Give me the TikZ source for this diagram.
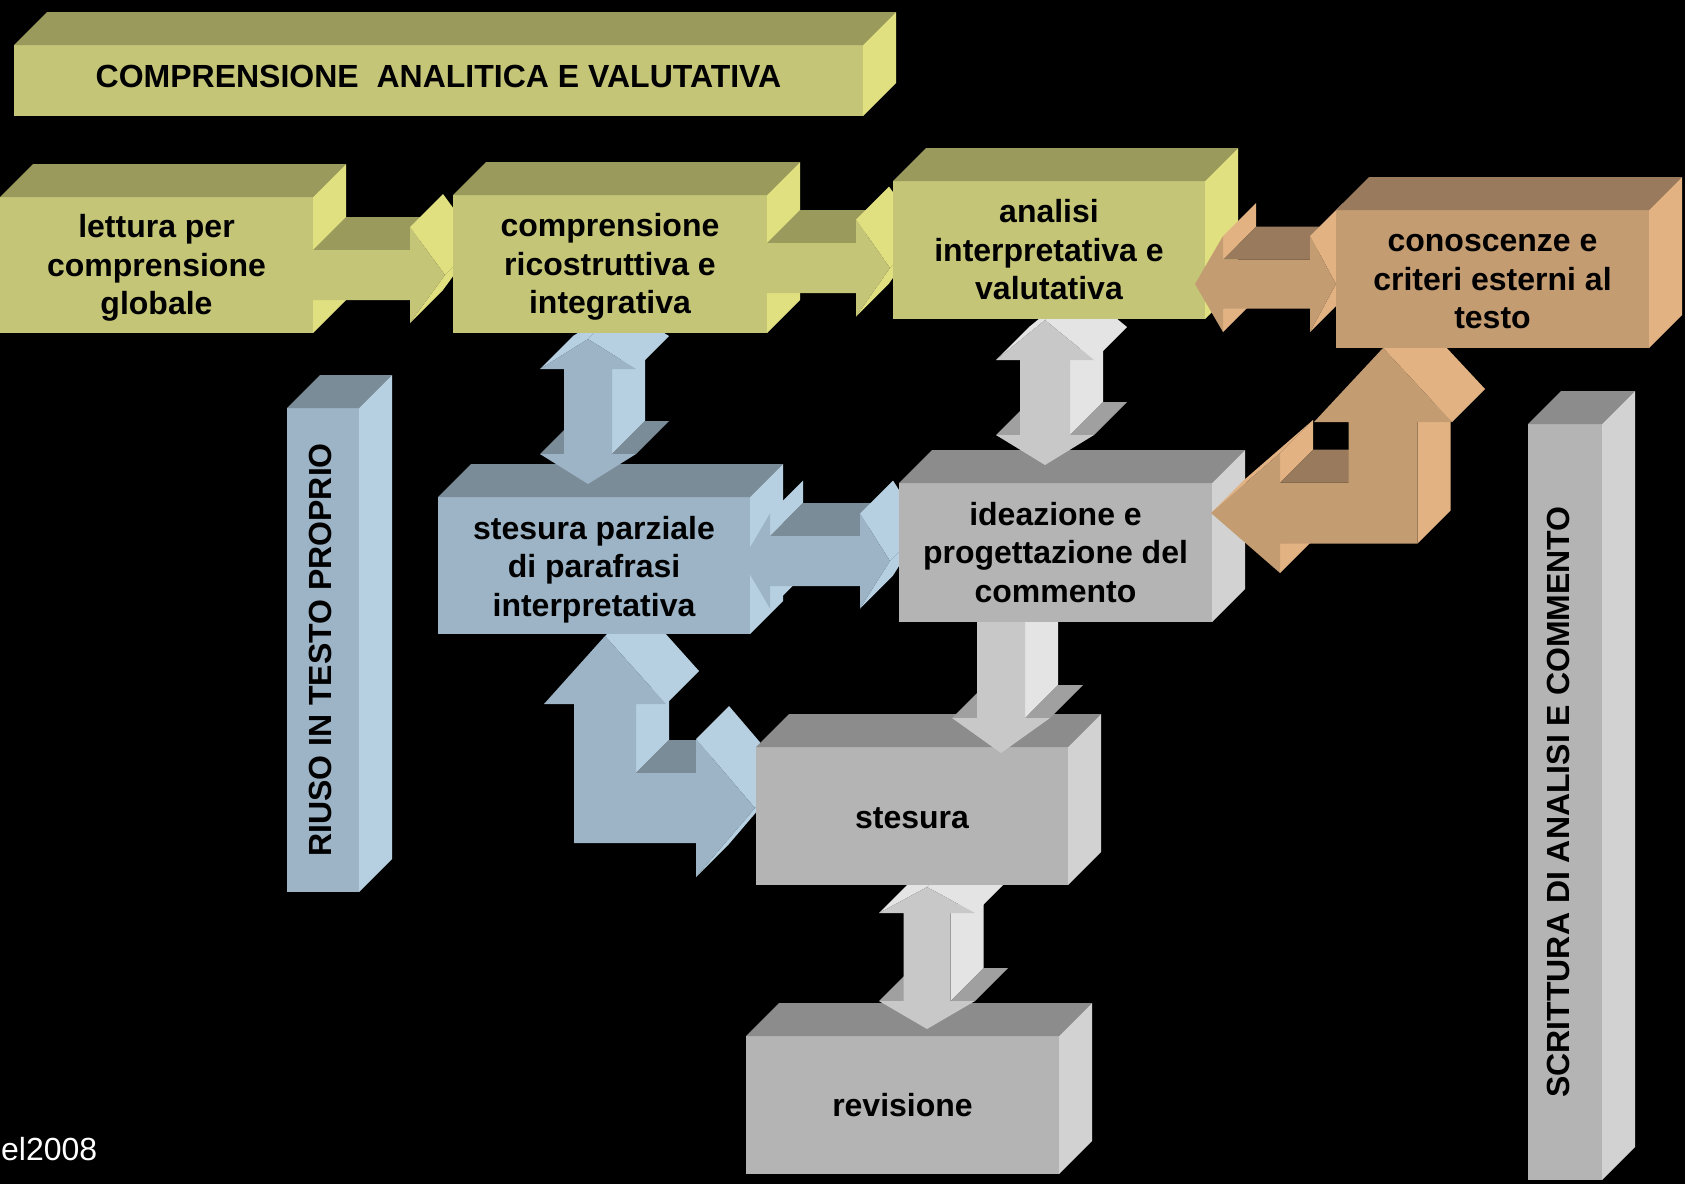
\documentclass[tikz,border=0pt]{standalone}
\usepackage{fontspec}
\setmainfont{Liberation Sans}
\usetikzlibrary{calc}

% --- colour families: F front, T top, S side ---
\definecolor{yelF}{RGB}{197,197,120}\definecolor{yelT}{RGB}{154,154,92}\definecolor{yelS}{RGB}{224,224,128}
\definecolor{brnF}{RGB}{196,156,114}\definecolor{brnT}{RGB}{154,122,92}\definecolor{brnS}{RGB}{226,178,130}
\definecolor{bluF}{RGB}{156,180,198}\definecolor{bluT}{RGB}{122,140,152}\definecolor{bluS}{RGB}{182,208,226}
\definecolor{gryF}{RGB}{180,180,180}\definecolor{gryT}{RGB}{140,140,140}\definecolor{gryS}{RGB}{210,210,210}
\definecolor{lgrF}{RGB}{200,200,200}\definecolor{lgrT}{RGB}{160,160,160}\definecolor{lgrS}{RGB}{228,228,228}

\newdimen\auxx \newdimen\auxy
\def\dep{33}

% pixel position of a named coordinate
\newcommand{\pxof}[3]{%
  \pgfextractx{\auxx}{\pgfpointanchor{#1}{center}}%
  \pgfextracty{\auxy}{\pgfpointanchor{#1}{center}}%
  \pgfmathsetmacro#2{\auxx}%
  \pgfmathsetmacro#3{0-\auxy}%
}

% extruded polygon, points listed clockwise, first point repeated last
\newcommand{\extrude}[2]{%
  \global\let\pathlist\empty
  \foreach \xB/\yB [count=\k, remember=\xB as \xA (initially 0), remember=\yB as \yA (initially 0)] in #2 {%
    \xdef\pathlist{\pathlist(\xB,\yB) -- }%
    \ifnum\k>1
      \pgfmathsetmacro{\edx}{\xB-\xA}%
      \pgfmathsetmacro{\edy}{\yB-\yA}%
      \pgfmathtruncatemacro{\fc}{((\edx)+(\edy)>0.01) ? ((((\edx)>0) && (abs(\edy)<0.3*(\edx))) ? 1 : 2) : 0}%
      \ifcase\fc\relax
      \or \fill[#1T] (\xA,\yA) -- (\xB,\yB) -- ({\xB+\dep},{\yB-\dep}) -- ({\xA+\dep},{\yA-\dep}) -- cycle;
      \or \fill[#1S] (\xA,\yA) -- (\xB,\yB) -- ({\xB+\dep},{\yB-\dep}) -- ({\xA+\dep},{\yA-\dep}) -- cycle;
      \fi
    \fi
  }%
  \edef\frontcmd{\noexpand\fill[#1F] \pathlist cycle;}\frontcmd
}

% box: front, top and side of a frame node
\newcommand{\cube}[2]{%
  \fill[#2F] (#1.south west) rectangle (#1.north east);
  \fill[#2T] (#1.north west) -- ++(\dep,-\dep) -- ($(#1.north east)+(\dep,-\dep)$) -- (#1.north east) -- cycle;
  \fill[#2S] (#1.north east) -- ++(\dep,-\dep) -- ($(#1.south east)+(\dep,-\dep)$) -- (#1.south east) -- cycle;
}

% arrow to the right: start, tip, shaft half, head half, head length, family
\newcommand{\rarrow}[6]{%
  \pxof{#1}{\qsx}{\qsy}\pxof{#2}{\qtx}{\qty}%
  \pgfmathsetmacro\qhb{\qtx-#5}%
  \pgfmathsetmacro\qsu{\qty-#3}\pgfmathsetmacro\qsd{\qty+#3}%
  \pgfmathsetmacro\qhu{\qty-#4}\pgfmathsetmacro\qhd{\qty+#4}%
  \edef\plist{\qsx/\qsu,\qhb/\qsu,\qhb/\qhu,\qtx/\qty,\qhb/\qhd,\qhb/\qsd,\qsx/\qsd,\qsx/\qsu}%
  \extrude{#6}{\plist}%
}

% horizontal double arrow: left tip, right tip, shaft half, head half, left length, right length, family
\newcommand{\hdarrow}[7]{%
  \pxof{#1}{\qlx}{\qy}\pxof{#2}{\qrx}{\qry}%
  \pgfmathsetmacro\qa{\qlx+#5}\pgfmathsetmacro\qb{\qrx-#6}%
  \pgfmathsetmacro\qsu{\qy-#3}\pgfmathsetmacro\qsd{\qy+#3}%
  \pgfmathsetmacro\qhu{\qy-#4}\pgfmathsetmacro\qhd{\qy+#4}%
  \edef\plist{\qlx/\qy,\qa/\qhu,\qa/\qsu,\qb/\qsu,\qb/\qhu,\qrx/\qy,\qb/\qhd,\qb/\qsd,\qa/\qsd,\qa/\qhd,\qlx/\qy}%
  \extrude{#7}{\plist}%
}

% vertical double arrow: top tip, bottom tip, shaft half, head half, top length, bottom length, family
\newcommand{\vdarrow}[7]{%
  \pxof{#1}{\qx}{\qtop}\pxof{#2}{\qbx}{\qbot}%
  \pgfmathsetmacro\qxl{\qx-#3}\pgfmathsetmacro\qxr{\qx+#3}%
  \pgfmathsetmacro\qXl{\qx-#4}\pgfmathsetmacro\qXr{\qx+#4}%
  \pgfmathsetmacro\qa{\qtop+#5}\pgfmathsetmacro\qb{\qbot-#6}%
  \edef\plist{\qx/\qtop,\qXr/\qa,\qxr/\qa,\qxr/\qb,\qXr/\qb,\qx/\qbot,\qXl/\qb,\qxl/\qb,\qxl/\qa,\qXl/\qa,\qx/\qtop}%
  \extrude{#7}{\plist}%
}

% downward arrow: start, tip, shaft half, head half, head length, family
\newcommand{\dnarrow}[6]{%
  \pxof{#1}{\qsx}{\qsy}\pxof{#2}{\qx}{\qty}%
  \pgfmathsetmacro\qxl{\qx-#3}\pgfmathsetmacro\qxr{\qx+#3}%
  \pgfmathsetmacro\qXl{\qx-#4}\pgfmathsetmacro\qXr{\qx+#4}%
  \pgfmathsetmacro\qb{\qty-#5}%
  \edef\plist{\qxl/\qsy,\qxr/\qsy,\qxr/\qb,\qXr/\qb,\qx/\qty,\qXl/\qb,\qxl/\qb,\qxl/\qsy}%
  \extrude{#6}{\plist}%
}

% bent double arrows: up tip, side tip, vertical half, horizontal half, up head half, up length, side head half, side length, family
\newcommand{\bentsetup}[8]{%
  \pxof{#1}{\qx}{\qty}\pxof{#2}{\qhx}{\qhy}%
  \pgfmathsetmacro\qxl{\qx-#3}\pgfmathsetmacro\qxr{\qx+#3}%
  \pgfmathsetmacro\qXl{\qx-#5}\pgfmathsetmacro\qXr{\qx+#5}%
  \pgfmathsetmacro\qa{\qty+#6}%
  \pgfmathsetmacro\qsu{\qhy-#4}\pgfmathsetmacro\qsd{\qhy+#4}%
  \pgfmathsetmacro\qhu{\qhy-#7}\pgfmathsetmacro\qhd{\qhy+#7}%
}
\newcommand{\bentR}[9]{%
  \bentsetup{#1}{#2}{#3}{#4}{#5}{#6}{#7}{#8}%
  \pgfmathsetmacro\qhb{\qhx-#8}%
  \edef\plist{\qx/\qty,\qXr/\qa,\qxr/\qa,\qxr/\qsu,\qhb/\qsu,\qhb/\qhu,\qhx/\qhy,\qhb/\qhd,\qhb/\qsd,\qxl/\qsd,\qxl/\qa,\qXl/\qa,\qx/\qty}%
  \extrude{#9}{\plist}%
}
\newcommand{\bentL}[9]{%
  \bentsetup{#1}{#2}{#3}{#4}{#5}{#6}{#7}{#8}%
  \pgfmathsetmacro\qhb{\qhx+#8}%
  \edef\plist{\qx/\qty,\qXr/\qa,\qxr/\qa,\qxr/\qsd,\qhb/\qsd,\qhb/\qhd,\qhx/\qhy,\qhb/\qhu,\qhb/\qsu,\qxl/\qsu,\qxl/\qa,\qXl/\qa,\qx/\qty}%
  \extrude{#9}{\plist}%
}

\begin{document}
\begin{tikzpicture}[
    x=1pt, y=-1pt,
    frame/.style={inner sep=0pt, outer sep=0pt},
    lbl/.style={font=\bfseries\fontsize{32}{38.5}\selectfont, align=center, text=black, inner sep=0pt},
  ]

  % --- background ---
  \fill[black] (0,0) rectangle (1685,1184);
  \useasboundingbox (0,0) rectangle (1685,1184);

  % --- frames of the blocks ---
  \node[frame, minimum width=849pt, minimum height=71pt]  (banner)    at (438.5,80.5) {};
  \node[frame, minimum width=313pt, minimum height=136pt] (lettura)   at (156.5,265) {};
  \node[frame, minimum width=314pt, minimum height=138pt] (comp)      at (610,264) {};
  \node[frame, minimum width=312pt, minimum height=138pt] (analisi)   at (1049,250) {};
  \node[frame, minimum width=313pt, minimum height=138pt] (conosc)    at (1492.5,279) {};
  \node[frame, minimum width=312pt, minimum height=137pt] (parziale)  at (594,565.5) {};
  \node[frame, minimum width=313pt, minimum height=139pt] (ideazione) at (1055.5,552.5) {};
  \node[frame, minimum width=312pt, minimum height=138pt] (stesura)   at (912,816) {};
  \node[frame, minimum width=313pt, minimum height=138pt] (revisione) at (902.5,1105) {};
  \node[frame, minimum width=72pt, minimum height=484pt]  (riuso)     at (323,650) {};
  \node[frame, minimum width=74pt, minimum height=756pt]  (scrittura) at (1565,802) {};

  % --- arrow ends ---
  \coordinate (a1s) at ($(lettura.east)+(0,10)$);
  \coordinate (a1t) at ($(comp.west)+(-8,11)$);
  \coordinate (a2s) at ($(comp.east)+(0,4)$);
  \coordinate (a2t) at ($(analisi.west)+(-3,18)$);
  \coordinate (a3l) at ($(analisi.east)+(-10,34)$);
  \coordinate (a3r) at ($(conosc.west)+(0,5)$);
  \coordinate (vAt) at ($(comp.south)+(-22,6)$);
  \coordinate (vAb) at ($(parziale.north)+(-6,-13)$);
  \coordinate (vBt) at ($(analisi.south)+(-4,1)$);
  \coordinate (vBb) at ($(ideazione.north)+(-10.5,-18)$);
  \coordinate (vCt) at ($(stesura.south)+(15,2)$);
  \coordinate (vCb) at ($(revisione.north)+(24.5,-7)$);
  \coordinate (vDs) at ($(ideazione.south)+(-54.5,0)$);
  \coordinate (vDt) at ($(stesura.north)+(89,6)$);
  \coordinate (a4l) at ($(parziale.east)+(-8,-4.5)$);
  \coordinate (a4r) at ($(ideazione.west)+(-9,8.5)$);
  \coordinate (bBu) at ($(parziale.south)+(11,2)$);
  \coordinate (bBr) at ($(stesura.west)+(-1,-8)$);
  \coordinate (bOu) at ($(conosc.south)+(-109.5,0)$);
  \coordinate (bOl) at ($(ideazione.east)+(-1,-39.5)$);

  % --- side bars and banner ---
  \cube{banner}{yel}
  \cube{riuso}{blu}
  \cube{scrittura}{gry}

  % --- lower blocks and arrows, back to front ---
  \cube{revisione}{gry}
  \vdarrow{vCt}{vCb}{23.5}{48}{26}{28}{lgr}
  \bentR{bBu}{bBr}{31}{35}{61}{68}{69}{59}{blu}
  \cube{stesura}{gry}
  \cube{parziale}{blu}
  \dnarrow{vDs}{vDt}{24}{49}{35}{lgr}
  \hdarrow{a4l}{a4r}{25}{47.5}{28}{30}{blu}
  \cube{ideazione}{gry}
  \bentL{bOu}{bOl}{34.5}{30.5}{69}{74}{60}{69}{brn}
  \vdarrow{vBt}{vBb}{25}{49}{40}{30}{lgr}

  % --- top row ---
  \cube{lettura}{yel}
  \rarrow{a1s}{a1t}{25}{48}{35}{yel}
  \vdarrow{vAt}{vAb}{24}{48}{30}{30}{blu}
  \cube{comp}{yel}
  \rarrow{a2s}{a2t}{25}{48.5}{34}{yel}
  \cube{analisi}{yel}
  \hdarrow{a3l}{a3r}{24.5}{48}{28}{26}{brn}
  \cube{conosc}{brn}

  % --- labels ---
  \node[lbl] (tbanner) at ($(banner)+(0,-4)$) {COMPRENSIONE\ \ ANALITICA E VALUTATIVA};
  \node[lbl] (tlettura) at ($(lettura)+(0,3)$) {lettura per\\comprensione\\globale};
  \node[lbl] (tcomp) at ($(comp)+(0,3)$) {comprensione\\ricostruttiva e\\integrativa};
  \node[lbl] (tanalisi) at (analisi) {analisi\\interpretativa e\\valutativa};
  \node[lbl] (tconosc) at ($(conosc)+(0,3)$) {conoscenze e\\criteri esterni al\\testo};
  \node[lbl] (tparziale) at ($(parziale)+(0,4)$) {stesura parziale\\di parafrasi\\interpretativa};
  \node[lbl] (tideazione) at (ideazione) {ideazione e\\progettazione del\\commento};
  \node[lbl] (tstesura) at ($(stesura)+(0,2)$) {stesura};
  \node[lbl] (trevisione) at (revisione) {revisione};
  \node[lbl, rotate=90] (triuso) at ($(riuso)+(-3,0)$) {RIUSO IN TESTO PROPRIO};
  \node[lbl, rotate=90] (tscrittura) at ($(scrittura)+(-7,0)$) {SCRITTURA DI ANALISI E COMMENTO};
  \node[anchor=base west, inner sep=0pt, text=white, font=\fontsize{32}{37}\selectfont] (sig) at (1,1160) {el2008};

\end{tikzpicture}
\end{document}
